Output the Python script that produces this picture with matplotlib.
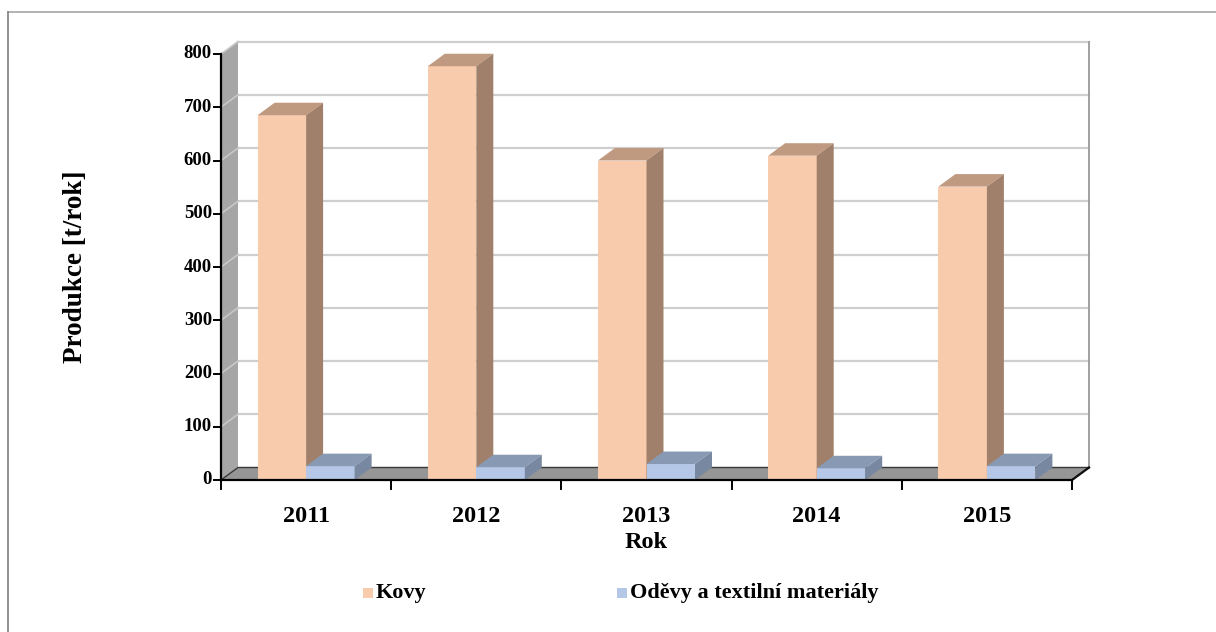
import matplotlib
matplotlib.use("Agg")
import matplotlib.pyplot as plt
from matplotlib.patches import Polygon
from matplotlib.lines import Line2D

years = ["2011", "2012", "2013", "2014", "2015"]
kovy = [685, 777, 600, 609, 551]
odevy = [26, 24, 30, 22, 26]
series_names = ["Kovy", "Oděvy a textilní materiály"]
yticks = [0, 100, 200, 300, 400, 500, 600, 700, 800]

W, H = 1216, 632
fig = plt.figure(figsize=(W / 100, H / 100), dpi=100)
plt.rcParams['font.family'] = ['Liberation Serif', 'DejaVu Serif']

# front plane of the axes in pixels
px0, px1 = 221, 1072
py0, py1 = 480, 54
ax = fig.add_axes([px0 / W, 1 - py0 / H, (px1 - px0) / W, (py0 - py1) / H])
ax.set_xlim(-0.5, 4.5)
ax.set_ylim(0, 800)
ax.axis("off")

# depth offset in data units (17 px right, 12.5 px up)
xs_per_px = 5.0 / (px1 - px0)
ys_per_px = 800.0 / (py0 - py1)
dx = 17 * xs_per_px
dy = 12.5 * ys_per_px
x0, x1 = -0.5, 4.5
ymax = 800

def poly(pts, fc, ec="none", lw=0.0, z=1):
    p = Polygon(pts, closed=True, facecolor=fc, edgecolor=ec, linewidth=lw,
                clip_on=False, zorder=z)
    ax.add_patch(p)

# back wall gridlines
for v in yticks:
    ax.plot([x0 + dx, x1 + dx], [v + dy, v + dy], color="#CFCFCF", lw=1.6,
            clip_on=False, zorder=1)
# back wall right edge
ax.plot([x1 + dx, x1 + dx], [dy, ymax + dy], color="#A0A0A0", lw=1.4,
        clip_on=False, zorder=1)

# left wall
poly([(x0, 0), (x0 + dx, dy), (x0 + dx, ymax + dy), (x0, ymax)], "#A6A6A6", z=2)
for v in yticks[1:]:
    ax.plot([x0, x0 + dx], [v, v + dy], color="#C8C8C8", lw=1.2,
            clip_on=False, zorder=2.5)

# floor
poly([(x0, 0), (x1, 0), (x1 + dx, dy), (x0 + dx, dy)], "#969696",
     ec="#3A3A3A", lw=1.0, z=3)
ax.plot([x1, x1 + dx], [0, dy], color="#111111", lw=1.6, clip_on=False, zorder=3.1)

bw = 48.5 * xs_per_px

def bar3d(xl, h, front, top, side):
    xr = xl + bw
    poly([(xl, 0), (xr, 0), (xr, h), (xl, h)], front, z=5)
    poly([(xl, h), (xr, h), (xr + dx, h + dy), (xl + dx, h + dy)], top, z=5)
    poly([(xr, 0), (xr + dx, dy), (xr + dx, h + dy), (xr, h)], side, z=5)

for i in range(len(years)):
    bar3d(i - bw, kovy[i], "#F8CBAD", "#C09A80", "#A0806A")
    bar3d(i, odevy[i], "#B4C7E7", "#8899B4", "#7888A0")

# front axes lines
ax.plot([x0, x0], [0, ymax], color="black", lw=1.6, clip_on=False, zorder=6)
ax.plot([x0, x1], [0, 0], color="black", lw=1.6, clip_on=False, zorder=6)

# y ticks and labels
tk = 7 * xs_per_px
for v in yticks:
    ax.plot([x0 - tk, x0], [v, v], color="black", lw=1.4, clip_on=False, zorder=6)
    ax.text(x0 - 9 * xs_per_px, v, str(v), ha="right", va="center",
            fontsize=13.5, fontweight="bold")
# x ticks at category boundaries
tky = 9 * ys_per_px
for b in range(len(years) + 1):
    xb = b - 0.5
    ax.plot([xb, xb], [0, -tky], color="black", lw=1.4, clip_on=False, zorder=6)
for i, y in enumerate(years):
    ax.text(i, -(516 - py0) * ys_per_px, y, ha="center", va="center",
            fontsize=17.5, fontweight="bold")

fig.text(646 / W, 1 - 542 / H, "Rok", ha="center", va="center",
         fontsize=17.5, fontweight="bold")
fig.text(76 / W, 1 - 267 / H, "Produkce [t/rok]", ha="center", va="center",
         rotation=90, fontsize=19.5, fontweight="bold")

# legend
def legend_item(xpx, ypx, color, label):
    s = 10
    fig.add_artist(plt.Rectangle(((xpx) / W, 1 - (ypx + s / 2) / H), s / W, s / H,
                                 transform=fig.transFigure, facecolor=color,
                                 edgecolor="none"))
    fig.text((xpx + s + 3) / W, 1 - ypx / H, label, ha="left", va="center",
             fontsize=16, fontweight="bold")

legend_item(363, 593, "#F8CBAD", series_names[0])
legend_item(617, 593, "#B4C7E7", series_names[1])

# outer frame
fig.add_artist(Line2D([8 / W, 1.0], [1 - 12 / H, 1 - 12 / H], color="#A6A6A6",
                      lw=1.2, transform=fig.transFigure))
fig.add_artist(Line2D([8 / W, 8 / W], [1 - 12 / H, 0.0], color="#7F7F7F",
                      lw=1.2, transform=fig.transFigure))

fig.savefig("out.png", dpi=100, facecolor="white")
